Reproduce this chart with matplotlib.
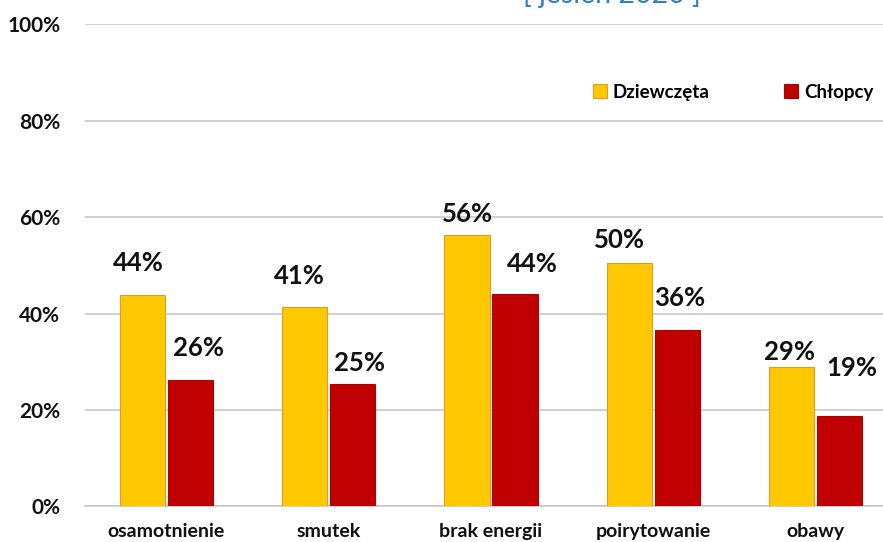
import matplotlib
matplotlib.use("Agg")
import matplotlib.pyplot as plt
import numpy as np

categories = ["osamotnienie", "smutek", "brak energii", "poirytowanie", "obawy"]
girls = [43.8, 41.4, 56.3, 50.4, 29.0]
boys = [26.3, 25.3, 44.1, 36.6, 18.8]
girls_labels = ["44%", "41%", "56%", "50%", "29%"]
boys_labels = ["26%", "25%", "44%", "36%", "19%"]
series_names = ["Dziewczęta", "Chłopcy"]
yticks = [0, 20, 40, 60, 80, 100]
ytick_labels = ["0%", "20%", "40%", "60%", "80%", "100%"]
title = "[ jesień 2020 ]"

# manual label offsets (pixels) as in the reference
girls_dx = [-4, -5, 0, -10, -2]
girls_dy = [32, 31, 21, 23, 15]
boys_dx = [8, 7, 17, 2, 12]
boys_dy = [32, 21, 30, 32, 48]

YELLOW = "#FFC800"
YEDGE = "#E09A2A"
RED = "#C00000"
REDGE = "#B00000"
TXT = "#111111"

plt.rcParams['font.family'] = ['Lato', 'DejaVu Sans']

fig = plt.figure(figsize=(8.83, 5.42), dpi=100)
ax = fig.add_axes([0.0966, 0.0655, 0.919, 0.8902])

x = np.arange(len(categories))
w = 0.28
gap = 0.008
b1 = ax.bar(x - w / 2 - gap, girls, width=w, color=YELLOW, edgecolor=YEDGE, linewidth=0.8, zorder=3, label=series_names[0])
b2 = ax.bar(x + w / 2 + gap, boys, width=w, color=RED, edgecolor=REDGE, linewidth=0.8, zorder=3, label=series_names[1])

for i, r in enumerate(b1):
    ax.annotate(girls_labels[i], (r.get_x() + r.get_width() / 2, r.get_height()),
                xytext=(girls_dx[i] * 0.72, girls_dy[i] * 0.72), textcoords="offset points",
                ha="center", va="center", fontsize=18.5, fontweight="bold", color=TXT)
for i, r in enumerate(b2):
    ax.annotate(boys_labels[i], (r.get_x() + r.get_width() / 2, r.get_height()),
                xytext=(boys_dx[i] * 0.72, boys_dy[i] * 0.72), textcoords="offset points",
                ha="center", va="center", fontsize=18.5, fontweight="bold", color=TXT)

ax.set_xlim(-0.5, len(categories) - 0.5)
ax.set_ylim(0, 100)
ax.set_yticks(yticks)
ax.set_yticklabels(ytick_labels, fontsize=15, fontweight="bold", color=TXT)
ax.set_xticks(x)
ax.set_xticklabels(categories, fontsize=14, fontweight="bold", color=TXT)
ax.tick_params(axis="both", length=0)
ax.tick_params(axis="y", pad=18)
ax.tick_params(axis="x", pad=12)
ax.grid(axis="y", color="#C8C8C8", linewidth=1.2, zorder=0)
for s in ["top", "right", "left"]:
    ax.spines[s].set_visible(False)
ax.spines["bottom"].set_color("#C8C8C8")
ax.spines["bottom"].set_linewidth(1.2)
ax.set_axisbelow(True)

leg = fig.legend(handles=[b1, b2], labels=series_names, loc="center left",
                 bbox_to_anchor=(0.652, 0.83), ncol=2, frameon=False,
                 handlelength=0.75, handleheight=0.75, handletextpad=0.3,
                 columnspacing=4.0, prop={"family": ["Lato", "DejaVu Sans"], "weight": "bold", "size": 13.5})

fig.text(0.6935, (542 - 3.5) / 542, title, ha="center", va="baseline",
         fontsize=20.5, color="#2E7FC4")

fig.savefig("out.png", dpi=100)
